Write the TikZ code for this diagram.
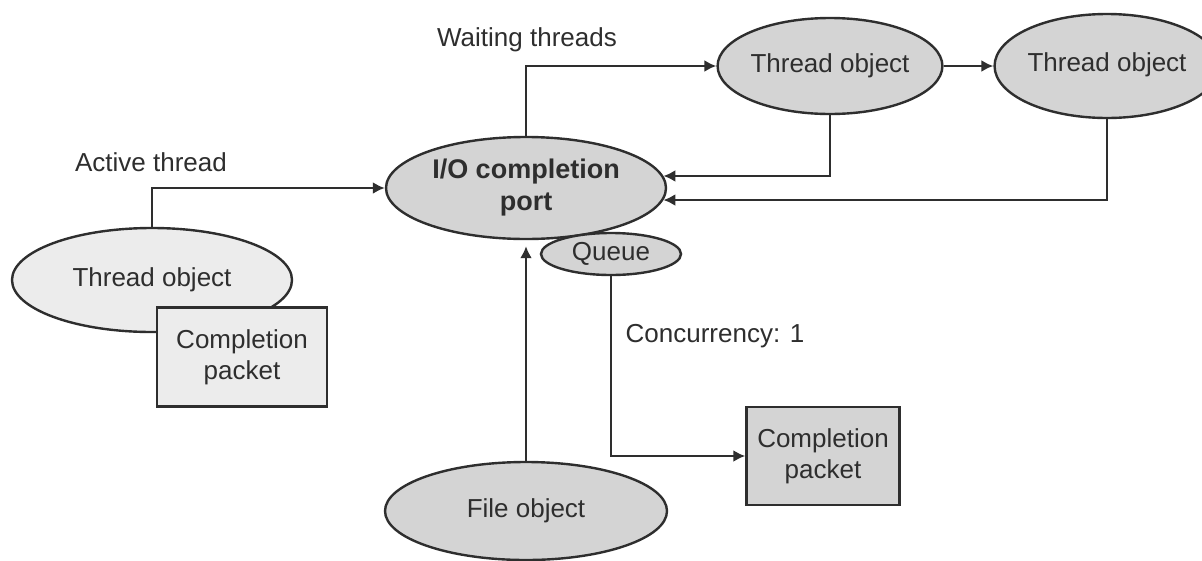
\documentclass[tikz,border=0pt]{standalone}
\usepackage{fontspec}
\setmainfont{Liberation Sans}
\usetikzlibrary{shapes.geometric,arrows.meta}
\definecolor{lineC}{HTML}{2E2E2E}
\definecolor{fillA}{HTML}{D4D4D4}
\definecolor{fillB}{HTML}{ECECEC}
\begin{document}
\begin{tikzpicture}[x=1pt,y=-1pt,
  every node/.style={font=\fontsize{26}{31}\selectfont, text=lineC},
  obj/.style={ellipse, draw=lineC, line width=2.4pt, fill=fillA, inner sep=0pt, align=center},
  pkt/.style={rectangle, draw=lineC, line width=2.4pt, fill=fillA, inner sep=0pt, align=center},
  conn/.style={draw=lineC, line width=2.4pt, -{Latex[length=12pt,width=12pt]}},
  lbl/.style={inner sep=0pt}]
\clip (0,0) rectangle (1202,560);
\fill[white] (0,0) rectangle (1202,560);
% nodes
\node[obj, minimum width=280pt, minimum height=102pt, font=\fontsize{27}{32}\selectfont\bfseries] (port) at (526,188) {I/O completion\\port};
\node[obj, minimum width=140pt, minimum height=42pt] (queue) at (611,254) {Queue};
\node[obj, minimum width=216pt, minimum height=96pt] (t1) at (830,66) {\raisebox{6pt}{Thread object}};
\node[obj, minimum width=214pt, minimum height=104pt] (t2) at (1107,66) {\raisebox{8pt}{Thread object}};
\node[obj, fill=fillB, minimum width=280pt, minimum height=104pt] (tl) at (152,280) {Thread object};
\node[pkt, fill=fillB, minimum width=170pt, minimum height=99pt] (cp1) at (242,357) {Completion\\packet};
\node[obj, minimum width=282pt, minimum height=98pt] (file) at (526,511) {File object};
\node[pkt, minimum width=153pt, minimum height=98pt] (cp2) at (823,456) {Completion\\packet};
% labels
\node[lbl] (lact) at (151,162) {Active thread};
\node[lbl] (lwait) at (527,40) {Waiting threads};
\node[lbl] (lconc) at (715,336) {Concurrency: 1};
% connectors
\draw[conn] (tl.north) |- (port.west);
\draw[conn] (port.north) |- (t1.west);
\draw[conn] (t1.east) -- (t2.west);
\draw[conn] (t1.south) |- (port.5);
\draw[conn] (t2.south) |- (port.-5);
\draw[conn, shorten >=6pt] (file.north) -- (port.south);
\draw[conn] (queue.south) |- (cp2.west);
\end{tikzpicture}
\end{document}
